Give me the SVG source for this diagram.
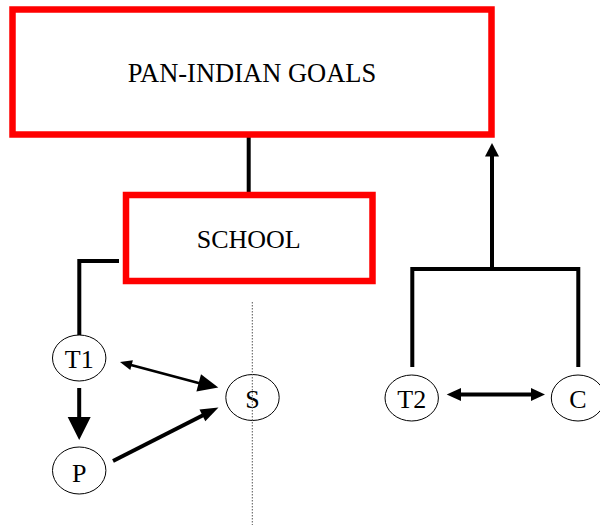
<svg xmlns="http://www.w3.org/2000/svg" width="600" height="525" viewBox="0 0 600 525">
<style>
.box{fill:#fff;stroke:#ff0000;stroke-width:6.5}
.node{fill:#fff;stroke:#000;stroke-width:1}
.lbl{font-family:"Liberation Serif","Times New Roman",serif;font-size:26px;fill:#000;text-anchor:middle}
.ln{fill:none;stroke:#000;stroke-width:4}
.thin{fill:none;stroke:#000;stroke-width:2.7}
.head{fill:#000;stroke:none}
.dot{fill:none;stroke:#555;stroke-width:1;stroke-dasharray:1.5 1.5}
</style>
<rect width="600" height="525" fill="#fff"/>
<g id="connectors">
<line class="ln" x1="248.7" y1="137" x2="248.7" y2="192"/>
<path class="ln" d="M119 261 H79.3 V335"/>
<line class="ln" x1="79.2" y1="388" x2="79.2" y2="418"/>
<polygon class="head" points="67.7,417 90.7,417 79.2,440"/>
<line class="thin" x1="131" y1="365" x2="199.5" y2="383.2"/>
<polygon class="head" points="120,362 130.3,369.9 132.9,360.3"/>
<polygon class="head" points="218.3,387.5 196.4,391.6 201,374.2"/>
<line class="ln" x1="113" y1="461" x2="203" y2="415.3"/>
<polygon class="head" points="218.5,407.5 205.3,421.3 199.5,409.5"/>
<path class="ln" d="M412.3 367 V269 H578.3 V367"/>
<line class="ln" x1="492" y1="269" x2="492" y2="155"/>
<polygon class="head" points="485,156.5 499,156.5 492,143"/>
<line class="ln" x1="460" y1="394.5" x2="532" y2="394.5"/>
<polygon class="head" points="446.7,394.5 461,388 461,401"/>
<polygon class="head" points="545,394.5 531,388 531,401"/>
</g>
<g id="pan-indian-goals">
<rect class="box" x="12.5" y="9.5" width="479" height="125"/>
<text class="lbl" x="252" y="82" style="font-size:26.5px">PAN-INDIAN GOALS</text>
</g>
<g id="school">
<rect class="box" x="126" y="195" width="246.5" height="86"/>
<text class="lbl" x="248.7" y="248">SCHOOL</text>
</g>
<g id="t1">
<ellipse class="node" cx="79.2" cy="358" rx="26.7" ry="23"/>
<text class="lbl" x="79.2" y="368">T1</text>
</g>
<g id="p">
<ellipse class="node" cx="79.2" cy="470.5" rx="26.7" ry="23.5"/>
<text class="lbl" x="79.2" y="481.5">P</text>
</g>
<g id="s">
<ellipse class="node" cx="252.5" cy="397.5" rx="26.7" ry="23"/>
<text class="lbl" x="252.5" y="408">S</text>
</g>
<g id="t2">
<ellipse class="node" cx="411.7" cy="398" rx="26.7" ry="23"/>
<text class="lbl" x="411.7" y="408">T2</text>
</g>
<g id="c">
<ellipse class="node" cx="578" cy="398" rx="26.7" ry="23"/>
<text class="lbl" x="578" y="408">C</text>
</g>
<line class="dot" x1="252.3" y1="302" x2="252.3" y2="525"/>
</svg>
